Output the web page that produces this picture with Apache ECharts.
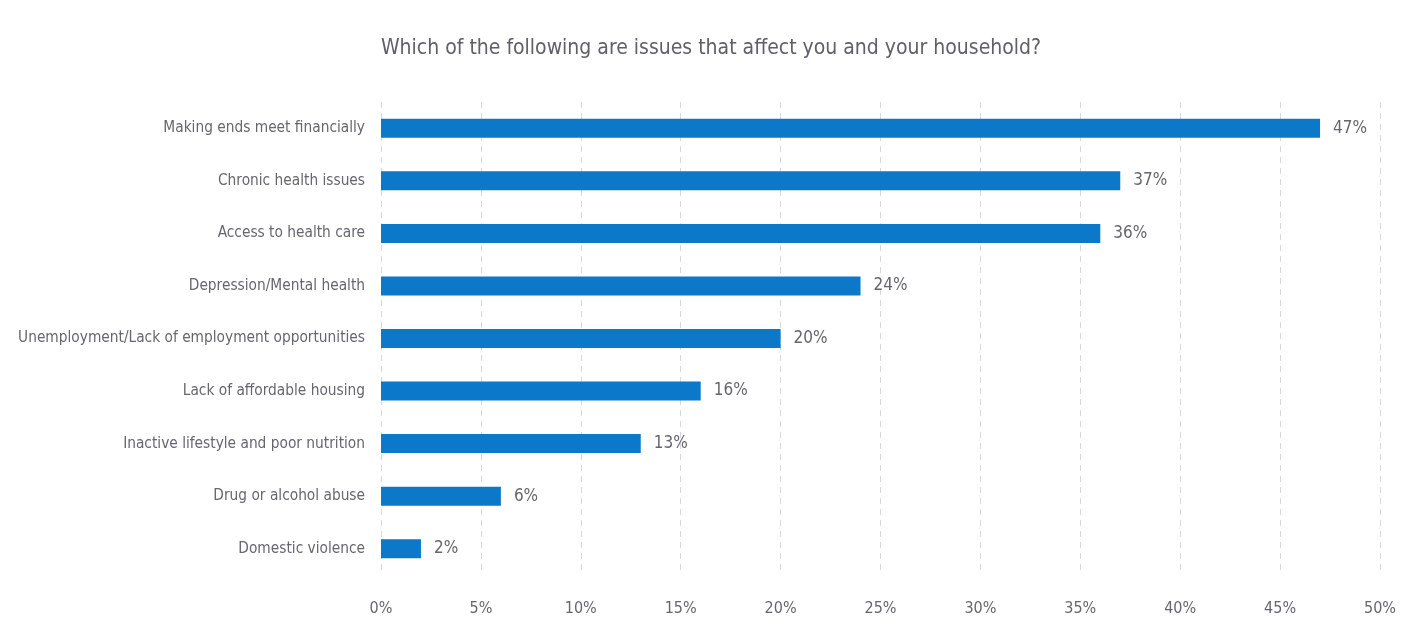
<!DOCTYPE html>
<html>
<head>
<meta charset="utf-8">
<title>Household issues</title>
<script src="https://cdn.jsdelivr.net/npm/echarts@6/dist/echarts.min.js"></script>
<style>
  html, body { margin: 0; padding: 0; background: #ffffff; }
  #chart { width: 1422px; height: 642px; }
</style>
</head>
<body>
<div id="chart"></div>
<script>
// Survey question and answer options (top to bottom)
const titleText = 'Which of the following are issues that affect you and your household?';
const categories = [
  'Making ends meet financially',
  'Chronic health issues',
  'Access to health care',
  'Depression/Mental health',
  'Unemployment/Lack of employment opportunities',
  'Lack of affordable housing',
  'Inactive lifestyle and poor nutrition',
  'Drug or alcohol abuse',
  'Domestic violence'
];
// Share of respondents, in percent
const values = [47, 37, 36, 24, 20, 16, 13, 6, 2];

const fontFamily = '"Liberation Sans Narrow", "DejaVu Sans Condensed", "Open Sans", sans-serif';
const textColor = '#66666e';

const chart = echarts.init(document.getElementById('chart'));
chart.setOption({
  backgroundColor: '#ffffff',
  animation: false,
  title: {
    text: titleText,
    left: 'center',
    top: 33,
    textStyle: { fontFamily: fontFamily, fontSize: 21, fontWeight: 'normal', color: '#5f6068' }
  },
  grid: { left: 381, right: 42, top: 102, bottom: 67, containLabel: false },
  xAxis: {
    type: 'value',
    min: 0,
    max: 50,
    interval: 5,
    axisLine: { show: false },
    axisTick: { show: false },
    axisLabel: {
      margin: 26,
      formatter: v => v + '%',
      fontFamily: fontFamily,
      fontSize: 16,
      color: textColor
    },
    splitLine: { show: true, lineStyle: { color: '#d6d8dc', type: [6, 5], width: 1 } }
  },
  yAxis: {
    type: 'category',
    data: categories,
    inverse: true,
    axisLine: { show: false },
    axisTick: { show: false },
    axisLabel: {
      margin: 16,
      fontFamily: fontFamily,
      fontSize: 15.3,
      color: textColor
    }
  },
  series: [{
    type: 'bar',
    data: values,
    barWidth: 19,
    itemStyle: { color: '#0b78c9' },
    label: {
      show: true,
      position: 'right',
      distance: 13,
      formatter: p => p.value + '%',
      fontFamily: fontFamily,
      fontSize: 17,
      color: textColor
    }
  }]
});
</script>
</body>
</html>
